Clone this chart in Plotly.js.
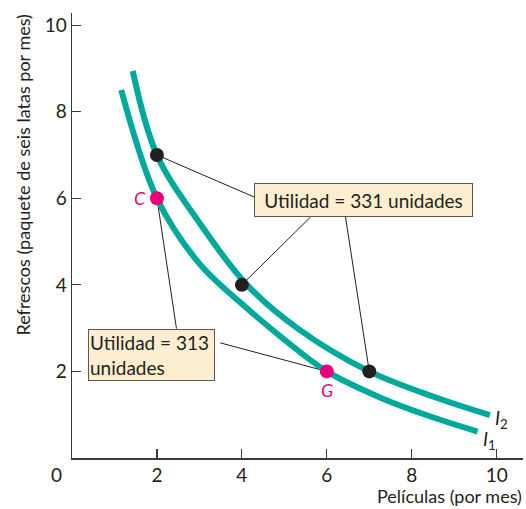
<!DOCTYPE html>
<html>
<head>
<meta charset="utf-8">
<script src="https://cdn.plot.ly/plotly-3.0.1.min.js"></script>
<style>html,body{margin:0;padding:0;background:#fff;}#chart{width:526px;height:509px;}</style>
</head>
<body>
<div id="chart"></div>
<script>
// Indifference curve I1 (utility 313)
var i1X = [1.16, 2.0, 3.0, 4.12, 4.97, 6.0, 7.32, 8.41, 9.55];
var i1Y = [8.50, 6.0, 4.49, 3.46, 2.76, 2.0, 1.37, 0.97, 0.61];
// Indifference curve I2 (utility 331)
var i2X = [1.43, 2.0, 3.01, 4.12, 5.36, 7.0, 8.50, 9.84];
var i2Y = [8.94, 7.0, 5.42, 4.0, 2.96, 2.0, 1.42, 0.99];
// Highlighted bundles
var blackX = [2, 4, 7];
var blackY = [7, 4, 2];
var pinkX = [2, 6];
var pinkY = [6, 2];
var pinkLabels = ['C', 'G'];
var tickVals = [2, 4, 6, 8, 10];
var tickText = ['2', '4', '6', '8', '10'];
var xTitle = 'Películas (por mes)';
var yTitle = 'Refrescos (paquete de seis latas por mes)';
var box331Text = 'Utilidad = 331 unidades';
var box313Text = 'Utilidad = 313<br>unidades';

var teal = '#00a99b';
var pink = '#e6007e';
var ink = '#231f20';
var font = 'Lato, "Open Sans", sans-serif';

var traces = [
  {x: i1X, y: i1Y, mode: 'lines', line: {color: teal, width: 6, shape: 'spline', smoothing: 1}, hoverinfo: 'skip'},
  {x: i2X, y: i2Y, mode: 'lines', line: {color: teal, width: 6, shape: 'spline', smoothing: 1}, hoverinfo: 'skip'},
  {x: blackX, y: blackY, mode: 'markers', marker: {color: ink, size: 14}},
  {x: pinkX, y: pinkY, mode: 'markers', marker: {color: pink, size: 14}}
];

// label boxes (data coords) and leader lines
var box331 = {x: 6.865, y: 5.97};
var box313 = {x: 1.88, y: 2.385};
var leaders = [
  [blackX[0], blackY[0], 4.285, 6.03],
  [blackX[1], blackY[1], 5.62, 5.57],
  [blackX[2], blackY[2], 6.44, 5.57],
  [pinkX[0], pinkY[0], 2.46, 2.99],
  [pinkX[1], pinkY[1], 3.49, 2.66]
];
var shapes = leaders.map(function(l){
  return {type: 'line', xref: 'x', yref: 'y', x0: l[0], y0: l[1], x1: l[2], y1: l[3],
          line: {color: ink, width: 1}, layer: 'below'};
});

var annotations = [
  {x: box331.x, y: box331.y, xref: 'x', yref: 'y', text: box331Text, showarrow: false,
   font: {family: font, size: 19, color: ink}, bgcolor: '#fdeecf', bordercolor: '#5e5850', borderwidth: 1,
   width: 207, height: 22, borderpad: 5, align: 'center'},
  {x: box313.x, y: box313.y, xref: 'x', yref: 'y', text: box313Text, showarrow: false,
   font: {family: font, size: 19, color: ink}, bgcolor: '#fdeecf', bordercolor: '#5e5850', borderwidth: 1,
   width: 123, height: 48, borderpad: 1, align: 'left'},
  {x: pinkX[0], y: pinkY[0], xref: 'x', yref: 'y', text: '<i>' + pinkLabels[0] + '</i>', showarrow: false,
   xanchor: 'right', xshift: -9, font: {family: font, size: 18, color: pink}},
  {x: pinkX[1], y: pinkY[1], xref: 'x', yref: 'y', text: '<i>' + pinkLabels[1] + '</i>', showarrow: false,
   yanchor: 'top', yshift: -6, font: {family: font, size: 18, color: pink}},
  {x: i2X[i2X.length-1], y: i2Y[i2Y.length-1], xref: 'x', yref: 'y', text: '<i>I</i><sub>2</sub>', showarrow: false,
   xanchor: 'left', xshift: 3, yshift: -4, font: {family: font, size: 19, color: ink}},
  {x: i1X[i1X.length-1], y: i1Y[i1Y.length-1], xref: 'x', yref: 'y', text: '<i>I</i><sub>1</sub>', showarrow: false,
   xanchor: 'left', xshift: 3, yshift: -8, font: {family: font, size: 19, color: ink}},
  {x: 0, y: 0, xref: 'x', yref: 'y', text: '0', showarrow: false, xanchor: 'right', yanchor: 'top',
   xshift: -8, yshift: -3, font: {family: font, size: 19, color: ink}},
  {x: 1, y: 0, xref: 'paper', yref: 'paper', text: xTitle, showarrow: false, xanchor: 'right', yanchor: 'top',
   xshift: 1, yshift: -25, font: {family: font, size: 18, color: ink}},
  {x: 0, y: 1, xref: 'paper', yref: 'paper', text: yTitle, showarrow: false, textangle: -90,
   xanchor: 'center', yanchor: 'top', xshift: -50, yshift: 0, font: {family: font, size: 18, color: ink}}
];

var layout = {
  width: 526, height: 509,
  margin: {l: 72, r: 3, t: 13, b: 51},
  paper_bgcolor: '#fff', plot_bgcolor: '#fff',
  showlegend: false,
  font: {family: font, size: 19, color: ink},
  xaxis: {range: [0, 10.62], tickvals: tickVals, ticktext: tickText, ticks: 'inside', ticklen: 9,
          tickcolor: '#3a3a3a', tickwidth: 1.2, showline: true, linecolor: '#3a3a3a', linewidth: 1.5,
          showgrid: false, zeroline: false, tickfont: {family: font, size: 19, color: ink}},
  yaxis: {range: [0, 10.28], tickvals: tickVals, ticktext: tickText, ticks: 'inside', ticklen: 9,
          tickcolor: '#3a3a3a', tickwidth: 1.2, showline: true, linecolor: '#3a3a3a', linewidth: 1.5,
          showgrid: false, zeroline: false, tickfont: {family: font, size: 19, color: ink}},
  shapes: shapes,
  annotations: annotations
};

Plotly.newPlot('chart', traces, layout, {displayModeBar: false, staticPlot: true});
</script>
</body>
</html>
